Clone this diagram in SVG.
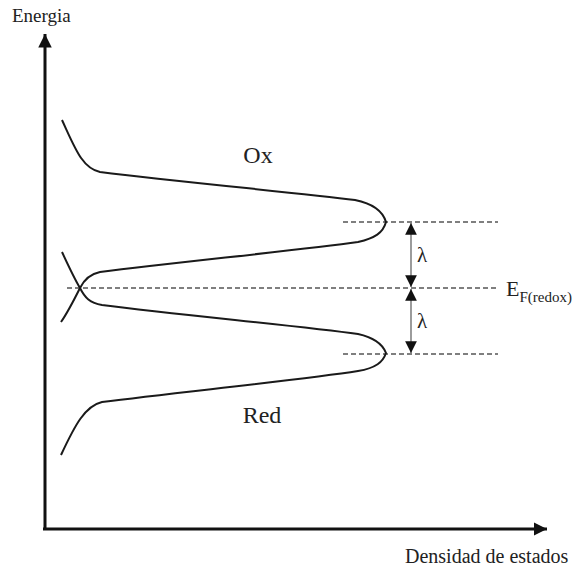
<svg xmlns="http://www.w3.org/2000/svg" width="582" height="571" viewBox="0 0 582 571">
<style>
.t{font-family:"Liberation Serif","Times New Roman",serif;fill:#222}
.axis{stroke:#111;stroke-width:3;fill:none}
.curve{stroke:#1a1a1a;stroke-width:2;fill:none}
.dash{stroke:#555;stroke-width:1.3;stroke-dasharray:5,3;fill:none}
.dim{stroke:#666;stroke-width:1.3;fill:none}
</style>
<defs>
<marker id="ah" viewBox="0 0 10 10" refX="10" refY="5" markerWidth="4.5" markerHeight="4.5" orient="auto" markerUnits="strokeWidth">
<path d="M0,0 L10,5 L0,10 Z" fill="#111"/>
</marker>
<marker id="dh" viewBox="0 0 10 10" refX="10" refY="5" markerWidth="9" markerHeight="9" orient="auto-start-reverse" markerUnits="strokeWidth">
<path d="M0,0 L10,5 L0,10 Z" fill="#111"/>
</marker>
</defs>
<rect width="582" height="571" fill="#fff"/>
<g id="axes">
<path class="axis" d="M45,529 L45,34" marker-end="url(#ah)"/>
<path class="axis" d="M43,529 L547,529" marker-end="url(#ah)"/>
<text class="t" x="12" y="22" font-size="19">Energia</text>
<text class="t" x="405" y="563" font-size="20">Densidad de estados</text>
</g>
<g id="connectors">
<line class="dash" x1="343" y1="222" x2="498" y2="222"/>
<line class="dash" x1="67" y1="288" x2="498" y2="288"/>
<line class="dash" x1="343" y1="354" x2="498" y2="354"/>
<path class="dim" d="M411,223 L411,287" marker-start="url(#dh)" marker-end="url(#dh)"/>
<path class="dim" d="M411,289 L411,353" marker-start="url(#dh)" marker-end="url(#dh)"/>
</g>
<g id="ox">
<path class="curve" d="M62,120 C75,148 82,168 100,172 C180,182 300,193 355,200 C375,204 383,212 386,222 C383,233 375,238 358,242 C300,250 180,262 100,272 C90,274 84,280 80,288 C74,300 68,312 61,322"/>
<text class="t" x="258" y="163" font-size="24" text-anchor="middle">Ox</text>
</g>
<g id="red">
<path class="curve" d="M62,252 C68,265 74,278 80,288 C85,298 90,303 102,305 C180,315 300,326 358,334 C376,338 383,345 386,353 C383,362 376,368 358,371 C300,380 180,392 102,402 C85,406 75,425 61,455"/>
<text class="t" x="262" y="423" font-size="24" text-anchor="middle">Red</text>
</g>
<g id="labels">
<text class="t" x="417" y="262" font-size="21">λ</text>
<text class="t" x="417" y="328" font-size="21">λ</text>
<text class="t" x="506" y="296" font-size="22">E<tspan font-size="15" dy="6">F(redox)</tspan></text>
</g>
</svg>
